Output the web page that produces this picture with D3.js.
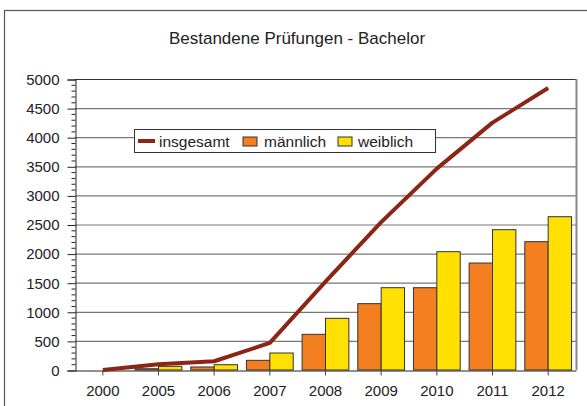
<!DOCTYPE html>
<html>
<head>
<meta charset="utf-8">
<script src="https://cdn.jsdelivr.net/npm/d3@7"></script>
<style>
  body { margin: 0; background: #fff; }
  svg { display: block; font-family: "Liberation Sans", Arial, sans-serif; }
</style>
</head>
<body>
<svg id="chart" width="587" height="406"></svg>
<script>
// data
var years = ["2000", "2005", "2006", "2007", "2008", "2009", "2010", "2011", "2012"];
var maennlich = [0, 22, 52, 166, 613, 1140, 1414, 1838, 2205];
var weiblich = [0, 63, 91, 292, 888, 1414, 2033, 2411, 2634];
var insgesamt = [0, 100, 150, 465, 1520, 2540, 3460, 4250, 4845];
var yTicks = [0, 500, 1000, 1500, 2000, 2500, 3000, 3500, 4000, 4500, 5000];

var svg = d3.select("#chart");

var plot = { left: 75, right: 576, top: 79, bottom: 370 };

// outer frame (goes off the right / bottom of the picture)
svg.append("rect")
    .attr("x", 4.5).attr("y", 10.5)
    .attr("width", 620).attr("height", 420)
    .attr("fill", "none")
    .attr("stroke", "#555")
    .attr("stroke-width", 1.2);

svg.append("text")
    .attr("x", 297).attr("y", 44)
    .attr("text-anchor", "middle")
    .attr("font-size", 17)
    .attr("fill", "#222")
    .text("Bestandene Prüfungen - Bachelor");

var x = d3.scaleBand()
    .domain(years)
    .range([plot.left, plot.right]);

var y = d3.scaleLinear()
    .domain([0, 5000])
    .range([plot.bottom, plot.top]);

// gridlines
svg.append("g")
    .selectAll("line")
    .data(yTicks.filter(function (d) { return d > 0; }))
    .enter().append("line")
    .attr("x1", plot.left).attr("x2", plot.right)
    .attr("y1", function (d) { return y(d) + 0.5; })
    .attr("y2", function (d) { return y(d) + 0.5; })
    .attr("stroke", function (d) { return d === 5000 ? "#333" : "#777"; })
    .attr("stroke-width", 1.2);

// right border of plot area
svg.append("line")
    .attr("x1", plot.right + 0.5).attr("x2", plot.right + 0.5)
    .attr("y1", plot.top).attr("y2", plot.bottom)
    .attr("stroke", "#888").attr("stroke-width", 2);

// bars
var barW = x.bandwidth() * 0.42;
var groups = svg.append("g")
    .selectAll("g")
    .data(years)
    .enter().append("g");

groups.append("rect")
    .attr("x", function (d) { return x(d) + x.bandwidth() / 2 - barW; })
    .attr("y", function (d, i) { return y(maennlich[i]); })
    .attr("width", barW)
    .attr("height", function (d, i) { return plot.bottom - y(maennlich[i]); })
    .attr("fill", "#F47F20")
    .attr("stroke", "#333")
    .attr("stroke-width", function (d, i) { return maennlich[i] > 0 ? 1 : 0; });

groups.append("rect")
    .attr("x", function (d) { return x(d) + x.bandwidth() / 2; })
    .attr("y", function (d, i) { return y(weiblich[i]); })
    .attr("width", barW)
    .attr("height", function (d, i) { return plot.bottom - y(weiblich[i]); })
    .attr("fill", "#FFE000")
    .attr("stroke", "#333")
    .attr("stroke-width", function (d, i) { return weiblich[i] > 0 ? 1 : 0; });

// y axis with minor ticks
var yAxis = d3.axisLeft(y)
    .tickValues(yTicks)
    .tickFormat(d3.format("d"))
    .tickSize(8)
    .tickPadding(8);

var gy = svg.append("g")
    .attr("transform", "translate(" + (plot.left + 0.5) + ",0.5)")
    .call(yAxis);
gy.attr("font-family", null).attr("font-size", null);
gy.select(".domain").attr("stroke", "#222");
gy.selectAll(".tick line").attr("stroke", "#222");
gy.selectAll(".tick text")
    .attr("font-size", 15)
    .attr("fill", "#222");

gy.append("g")
    .selectAll("line")
    .data(d3.range(100, 5000, 100).filter(function (d) { return d % 500 !== 0; }))
    .enter().append("line")
    .attr("x1", -4).attr("x2", 0)
    .attr("y1", function (d) { return y(d); })
    .attr("y2", function (d) { return y(d); })
    .attr("stroke", "#222");

// x axis
var xAxis = d3.axisBottom(x)
    .tickSize(5)
    .tickPadding(10)
    .tickSizeOuter(0);

var gx = svg.append("g")
    .attr("transform", "translate(0," + (plot.bottom + 0.5) + ")")
    .call(xAxis);
gx.attr("font-family", null).attr("font-size", null);
gx.select(".domain").attr("stroke", "#222").attr("stroke-width", 1.2);
gx.selectAll(".tick line").attr("stroke", "#444");
gx.selectAll(".tick text")
    .attr("font-size", 15)
    .attr("fill", "#222");

// total line
var line = d3.line()
    .x(function (d, i) { return x(years[i]) + x.bandwidth() / 2; })
    .y(function (d) { return y(d); });

svg.append("path")
    .datum(insgesamt)
    .attr("d", line)
    .attr("fill", "none")
    .attr("stroke", "#8B2515")
    .attr("stroke-width", 4)
    .attr("stroke-linejoin", "round");

// legend
var legend = svg.append("g").attr("transform", "translate(134,129)");
legend.append("rect")
    .attr("x", 0.5).attr("y", 0.5)
    .attr("width", 301).attr("height", 23)
    .attr("fill", "#fff")
    .attr("stroke", "#333");

legend.append("line")
    .attr("x1", 4).attr("x2", 21)
    .attr("y1", 12).attr("y2", 12)
    .attr("stroke", "#8B2515").attr("stroke-width", 4);
legend.append("text")
    .attr("x", 25).attr("y", 17.5)
    .attr("font-size", 15.5).attr("fill", "#222")
    .text("insgesamt");

legend.append("rect")
    .attr("x", 109).attr("y", 8)
    .attr("width", 14).attr("height", 9)
    .attr("fill", "#F47F20").attr("stroke", "#333");
legend.append("text")
    .attr("x", 130).attr("y", 17.5)
    .attr("font-size", 15.5).attr("fill", "#222")
    .text("männlich");

legend.append("rect")
    .attr("x", 204).attr("y", 8)
    .attr("width", 14).attr("height", 9)
    .attr("fill", "#FFE000").attr("stroke", "#333");
legend.append("text")
    .attr("x", 224).attr("y", 17.5)
    .attr("font-size", 15.5).attr("fill", "#222")
    .text("weiblich");
</script>
</body>
</html>
